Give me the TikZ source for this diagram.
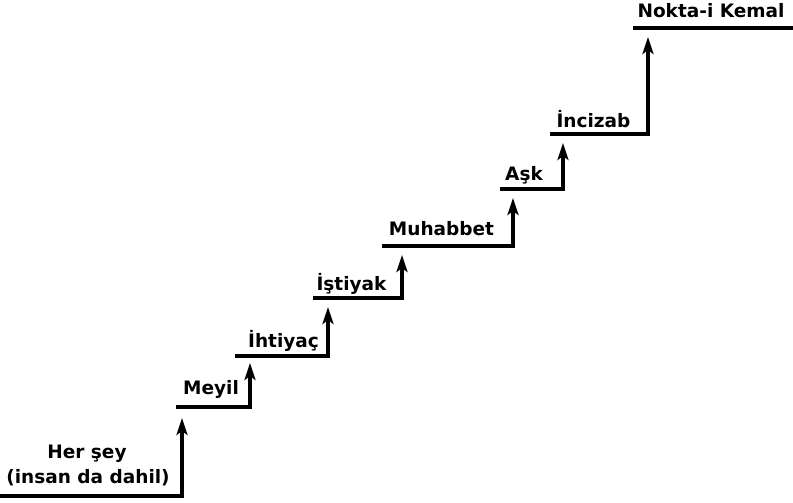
\documentclass[tikz,border=0pt]{standalone}
\usepackage{fontspec}
\setmainfont{DejaVu Sans}
\usetikzlibrary{arrows.meta,positioning}

\begin{document}
\begin{tikzpicture}[
x=1pt, y=-1pt,
StepLine/.style={draw=black,line width=3.4pt,line join=miter,-{Stealth[length=17pt,width=11pt,inset=4pt]}},
TopLine/.style={draw=black,line width=3.6pt},
StepLabel/.style={anchor=base,inner sep=0pt,font=\bfseries\fontsize{18.5}{22}\selectfont}
]
\useasboundingbox (0,0) rectangle (793,503);

% tread start, tread end, arrow tip
\coordinate (A1) at (0,496);   \coordinate (B1) at (182,496); \coordinate (T1) at (182,418);
\coordinate (A2) at (176,407); \coordinate (B2) at (250,407); \coordinate (T2) at (250,363);
\coordinate (A3) at (235,356); \coordinate (B3) at (328,356); \coordinate (T3) at (328,307);
\coordinate (A4) at (313,298); \coordinate (B4) at (402,298); \coordinate (T4) at (402,255);
\coordinate (A5) at (382,246); \coordinate (B5) at (513,246); \coordinate (T5) at (513,198);
\coordinate (A6) at (500,189); \coordinate (B6) at (563,189); \coordinate (T6) at (563,143);
\coordinate (A7) at (550,134); \coordinate (B7) at (648,134); \coordinate (T7) at (648,37);
\coordinate (A8) at (633,28);  \coordinate (B8) at (793,28);

\foreach \i in {1,...,7}{
  \draw[StepLine] (A\i) -- (B\i) -- (T\i);
}
\draw[TopLine] (A8) -- (B8);

\node[StepLabel] (L1a) at (87,458) {Her şey};
\node[StepLabel] (L1b) at (88,483) {(insan da dahil)};
\node[StepLabel] (L2) at (211,394) {Meyil};
\node[StepLabel] (L3) at (283.5,347) {İhtiyaç};
\node[StepLabel] (L4) at (351.5,290) {İştiyak};
\node[StepLabel] (L5) at (441.5,235) {Muhabbet};
\node[StepLabel] (L6) at (524,180) {Aşk};
\node[StepLabel] (L7) at (593.5,128) {İncizab};
\node[StepLabel] (L8) at (711,18) {Nokta-i Kemal};

\end{tikzpicture}
\end{document}
